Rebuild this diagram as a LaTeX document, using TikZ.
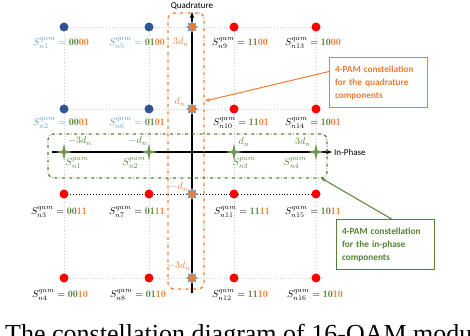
\documentclass[tikz,border=0pt]{standalone}
\usepackage{fontspec}
\newfontfamily\calib{Carlito}
\newfontfamily\capfont{Liberation Serif}
\usepackage{amsmath}
\usepackage{xcolor}
\usepackage{tikz}
\usetikzlibrary{positioning,arrows.meta,shapes.geometric,backgrounds}
\definecolor{mPamOrange}{HTML}{ED7D31}
\definecolor{mPamGreen}{HTML}{548235}
\definecolor{mDotBlue}{HTML}{2F5597}
\definecolor{mLabelBlue}{HTML}{5B9BD5}
\definecolor{mGridGrey}{HTML}{CFCFCF}
\newcommand{\qbits}[2]{\textcolor{mPamGreen}{\mathbf{#1}}\textcolor{mPamOrange}{\mathbf{#2}}}

\begin{document}
\begin{tikzpicture}[x=1pt, y=-1pt, font=\normalsize,
  qamdot/.style={circle, inner sep=0pt, minimum size=9pt},
  quadstar/.style={star, star points=8, star point ratio=1.7, fill=mPamOrange, draw=mLabelBlue, line width=0.5pt, inner sep=0pt, minimum size=11pt},
  inphstar/.style={star, star points=4, star point ratio=4, fill=mPamGreen!85, inner sep=0pt, minimum size=17pt},
  gridline/.style={mGridGrey, dotted, line width=0.8pt},
  pambox/.style={draw, rounded corners=6pt, dash dot, line width=1.3pt, inner sep=0pt},
  callout/.style={draw, line width=1pt, fill=white, align=left, text width=87pt, minimum height=50pt, inner sep=5.5pt, anchor=north west, font=\calib\bfseries\fontsize{9.3}{13}\selectfont},
  qamlab/.style={inner sep=0pt},
  axislab/.style={inner sep=1.5pt, font=\calib\fontsize{9}{10}\selectfont}]
\useasboundingbox (0,0) rectangle (470,336);

% 16-QAM points
\node[qamdot, fill=mDotBlue] (s1) at (64,27) {};
\node[qamdot, fill=mDotBlue] (s2) at (64,109) {};
\node[qamdot, fill=red] (s3) at (64,194) {};
\node[qamdot, fill=red] (s4) at (64,278) {};
\node[qamdot, fill=mDotBlue] (s5) at (149,27) {};
\node[qamdot, fill=mDotBlue] (s6) at (149,109) {};
\node[qamdot, fill=red] (s7) at (149,194) {};
\node[qamdot, fill=red] (s8) at (149,278) {};
\node[qamdot, fill=red] (s9) at (234,27) {};
\node[qamdot, fill=red] (s10) at (234,109) {};
\node[qamdot, fill=red] (s11) at (234,194) {};
\node[qamdot, fill=red] (s12) at (234,278) {};
\node[qamdot, fill=red] (s13) at (316,27) {};
\node[qamdot, fill=red] (s14) at (316,109) {};
\node[qamdot, fill=red] (s15) at (316,194) {};
\node[qamdot, fill=red] (s16) at (316,278) {};

% 4-PAM points on the axes
\node[quadstar] (q1) at (192,27) {};
\node[quadstar] (q2) at (192,109) {};
\node[quadstar] (q3) at (192,194) {};
\node[quadstar] (q4) at (192,278) {};
\node[inphstar] (p1) at (64,152) {};
\node[inphstar] (p2) at (149,152) {};
\node[inphstar] (p3) at (234,152) {};
\node[inphstar] (p4) at (316,152) {};

\coordinate (qbot) at (192,293);
\coordinate (qtop) at (192,12);
\coordinate (ileft) at (52,152);
\coordinate (iright) at (332,152);

\begin{scope}[on background layer]
\draw[gridline] (s1.center) -- ([xshift=6pt]s13.center);
\draw[gridline] (s2.center) -- ([xshift=6pt]s14.center);
\draw[gridline] (s4.center) -- ([xshift=6pt]s16.center);
\draw[gridline] (s1.center) -- (s4.center);
\draw[gridline] (s5.center) -- (s8.center);
\draw[gridline] (s9.center) -- (s12.center);
\draw[gridline] (s13.center) -- (s16.center);
\draw[black, dotted, line width=0.9pt] (s3.center) -- ([xshift=6pt]s15.center);
\draw[-{Stealth[length=6pt]}, line width=1.4pt] (qbot) -- (qtop) node[axislab, above] (qname) {Quadrature};
\draw[-{Stealth[length=6pt]}, line width=1.4pt] (ileft) -- (iright) node[axislab, right] (iname) {In-Phase};
\end{scope}

% dash-dot frames round the two 4-PAM sets
\node[pambox, mPamOrange, minimum width=36pt, minimum height=276pt] (quadbox) at (186,151) {};
\node[pambox, mPamGreen, minimum width=279pt, minimum height=44pt] (inphbox) at (187.5,156) {};

% amplitude labels
\node[text=mPamOrange, inner sep=0pt] (ql1) at (181,42) {$3d_n$};
\node[text=mPamOrange, inner sep=0pt] (ql2) at (180,102) {$d_n$};
\node[text=mPamOrange, inner sep=0pt] (ql3) at (179,187) {$-d_n$};
\node[text=mPamOrange, inner sep=0pt] (ql4) at (179,266) {$-3d_n$};
\node[text=mPamGreen, inner sep=0pt] (pl1) at (80,141) {$-3d_n$};
\node[text=mPamGreen, inner sep=0pt] (pl2) at (138,141) {$-d_n$};
\node[text=mPamGreen, inner sep=0pt] (pl3) at (244,142) {$d_n$};
\node[text=mPamGreen, inner sep=0pt] (pl4) at (303,142) {$3d_n$};
\node[text=mPamGreen, inner sep=0pt] (pn1) at (77,163) {$S^{pam}_{n1}$};
\node[text=mPamGreen, inner sep=0pt] (pn2) at (134,163) {$S^{pam}_{n2}$};
\node[text=mPamGreen, inner sep=0pt] (pn3) at (244,163) {$S^{pam}_{n3}$};
\node[text=mPamGreen, inner sep=0pt] (pn4) at (295,163) {$S^{pam}_{n4}$};

% symbol labels
\node[qamlab] (l1) at (61,43) {$\textcolor{mLabelBlue}{S^{qam}_{n1} = {}}\qbits{00}{00}$};
\node[qamlab] (l5) at (137,43) {$\textcolor{mLabelBlue}{S^{qam}_{n5} = {}}\qbits{01}{00}$};
\node[qamlab] (l9) at (240,43) {$S^{qam}_{n9} = \qbits{11}{00}$};
\node[qamlab] (l13) at (313,43) {$S^{qam}_{n13} = \qbits{10}{00}$};
\node[qamlab] (l2) at (61,123) {$\textcolor{mLabelBlue}{S^{qam}_{n2} = {}}\qbits{00}{01}$};
\node[qamlab] (l6) at (137,123) {$\textcolor{mLabelBlue}{S^{qam}_{n6} = {}}\qbits{01}{01}$};
\node[qamlab] (l10) at (241,123) {$S^{qam}_{n10} = \qbits{11}{01}$};
\node[qamlab] (l14) at (313,123) {$S^{qam}_{n14} = \qbits{10}{01}$};
\node[qamlab] (l3) at (59,212) {$S^{qam}_{n3} = \qbits{00}{11}$};
\node[qamlab] (l7) at (137,212) {$S^{qam}_{n7} = \qbits{01}{11}$};
\node[qamlab] (l11) at (242,212) {$S^{qam}_{n11} = \qbits{11}{11}$};
\node[qamlab] (l15) at (313,212) {$S^{qam}_{n15} = \qbits{10}{11}$};
\node[qamlab] (l4) at (60,295) {$S^{qam}_{n4} = \qbits{00}{10}$};
\node[qamlab] (l8) at (138,295) {$S^{qam}_{n8} = \qbits{01}{10}$};
\node[qamlab] (l12) at (240,295) {$S^{qam}_{n12} = \qbits{11}{10}$};
\node[qamlab] (l16) at (315,295) {$S^{qam}_{n16} = \qbits{10}{10}$};

% callouts
\node[callout, draw=mPamOrange, text=mPamOrange] (quadnote) at (329,57) {4-PAM constellation\\for the quadrature\\components};
\node[callout, draw=mPamGreen, text=mPamGreen] (inphnote) at (336,219) {4-PAM constellation\\for the in-phase\\components};
\coordinate (quadtip) at (205,101);
\coordinate (inphtip) at (321,178);
\draw[-{Stealth[length=5pt]}, mPamOrange, line width=1pt] ([yshift=11pt]quadnote.west) -- (quadtip);
\draw[-{Stealth[length=5pt]}, mPamGreen, line width=1pt] ([xshift=6pt]inphnote.north) -- (inphtip);

% caption, cut by the lower edge
\begin{scope}
\clip (0,0) rectangle (470,336);
\node[anchor=base west, inner sep=0pt, font=\capfont\fontsize{26}{30}\selectfont] (caption) at (5,342) {The constellation diagram of 16-QAM modu};
\end{scope}
\end{tikzpicture}
\end{document}
